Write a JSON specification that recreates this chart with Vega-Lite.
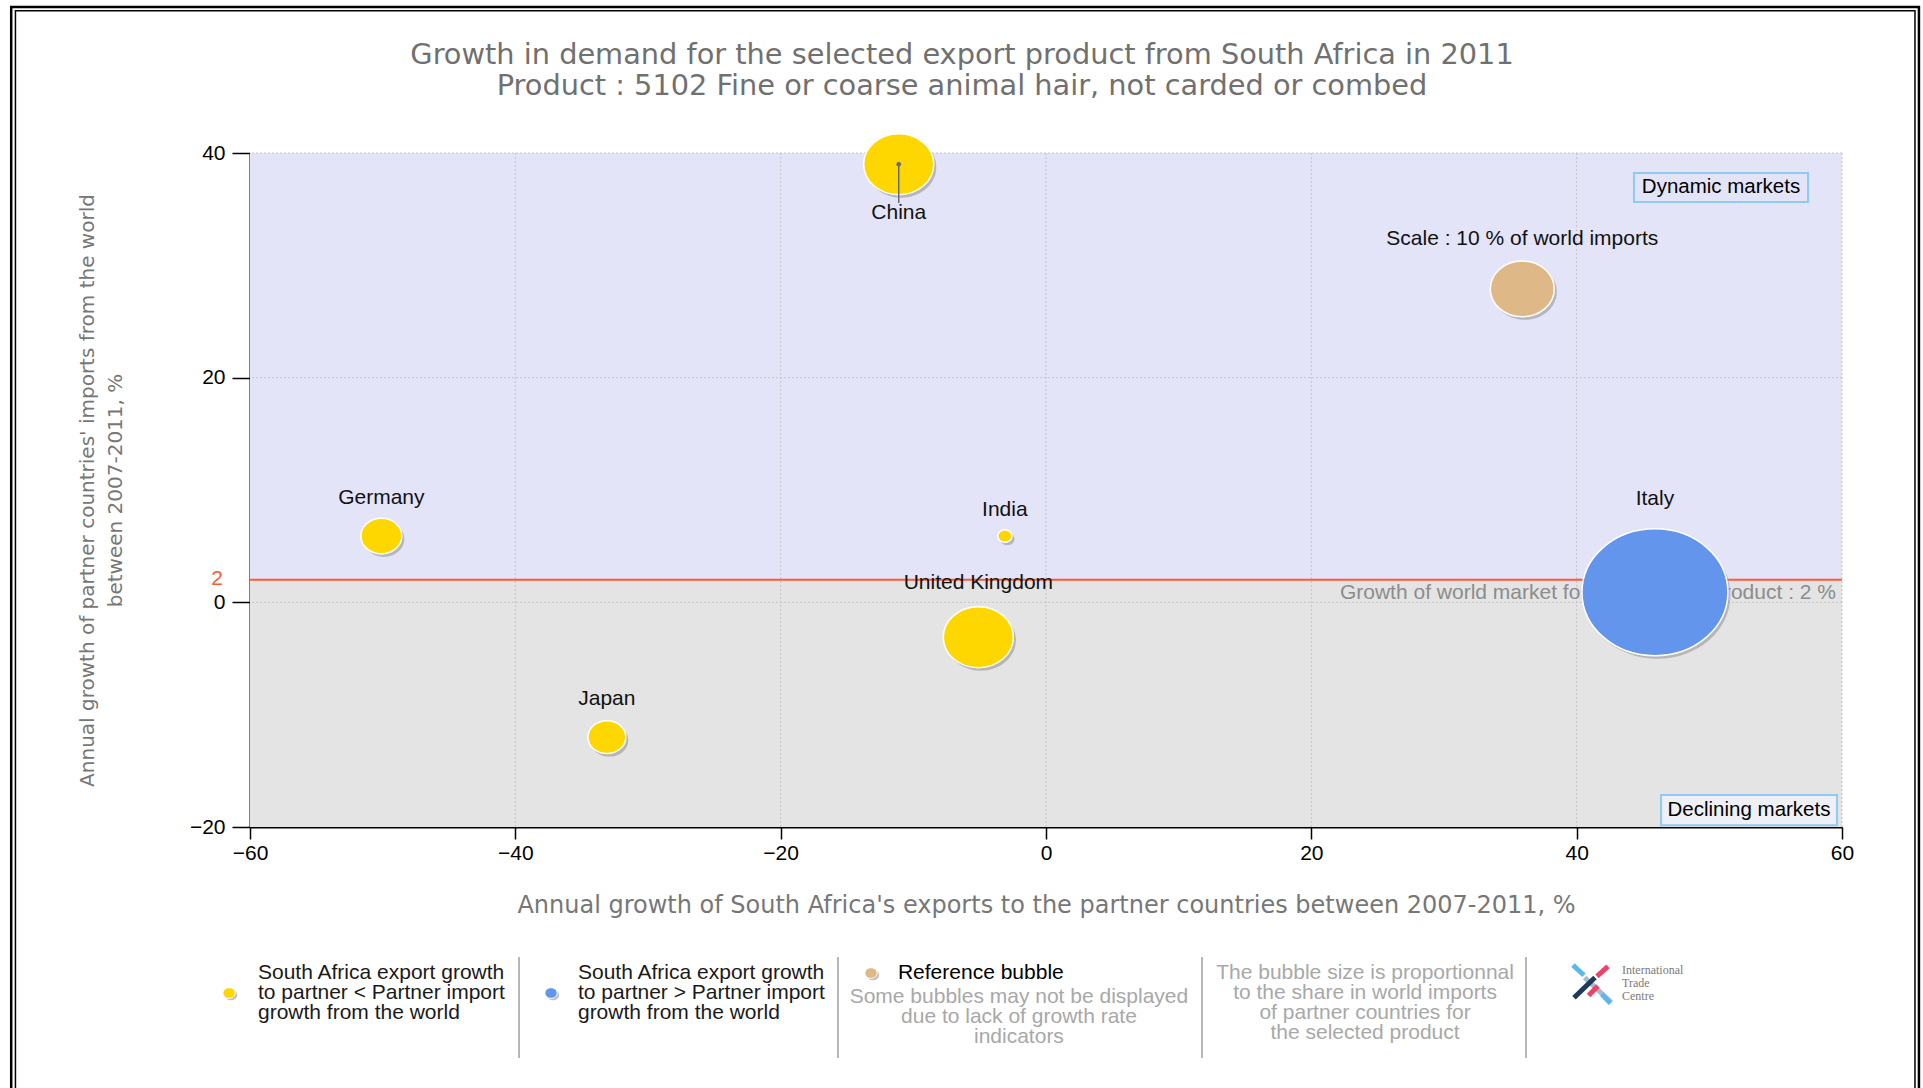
{
  "$schema": "https://vega.github.io/schema/vega-lite/v6.json",
  "width": 1592,
  "height": 674,
  "autosize": {"type": "none"},
  "padding": {"left": 250, "top": 153, "right": 81, "bottom": 261},
  "background": "white",
  "config": {
    "view": {"stroke": null},
    "axis": {
      "labelFont": "Liberation Sans",
      "labelFontSize": 21,
      "labelColor": "#000000",
      "domainColor": "#000000",
      "domainWidth": 2,
      "tickColor": "#000000",
      "tickWidth": 1.5,
      "titleFont": "DejaVu Sans",
      "titleFontWeight": "normal",
      "titleColor": "#777777",
      "grid": false
    }
  },
  "datasets": {
    "bubbles": [
      {"name": "China", "label": "China", "x": -11.1, "y": 39.0, "share": 12.0, "group": "lower"},
      {"name": "Germany", "label": "Germany", "x": -50.1, "y": 5.9, "share": 4.1, "group": "lower"},
      {"name": "India", "label": "India", "x": -3.1, "y": 5.9, "share": 0.5, "group": "lower"},
      {"name": "United Kingdom", "label": "United Kingdom", "x": -5.1, "y": -3.1, "share": 12.0, "group": "lower"},
      {"name": "Japan", "label": "Japan", "x": -33.1, "y": -12.0, "share": 3.5, "group": "lower"},
      {"name": "Italy", "label": "Italy", "x": 45.9, "y": 0.9, "share": 52.0, "group": "higher"},
      {"name": "Reference", "label": "Scale : 10 % of world imports", "x": 35.9, "y": 27.9, "share": 10, "group": "Reference"}
    ],
    "one": [{}]
  },
  "layer": [
    {
      "data": {"name": "one"},
      "layer": [
        {"mark": {"type": "rect", "fill": "transparent", "stroke": "#000000", "strokeWidth": 2.5},
         "encoding": {"x": {"datum": -78.0, "type": "quantitative"}, "x2": {"datum": 65.8}, "y": {"datum": 53.0, "type": "quantitative"}, "y2": {"datum": -44.5}}},
        {"mark": {"type": "rect", "fill": "transparent", "stroke": "#000000", "strokeWidth": 1.5},
         "encoding": {"x": {"datum": -77.68, "type": "quantitative"}, "x2": {"datum": 65.5}, "y": {"datum": 52.66, "type": "quantitative"}, "y2": {"datum": -44.5}}},
        {"mark": {"type": "rect", "fill": "#E4E4F8"},
         "encoding": {"x": {"datum": -60, "type": "quantitative"}, "x2": {"datum": 60}, "y": {"datum": 2, "type": "quantitative"}, "y2": {"datum": 40}}},
        {"mark": {"type": "rect", "fill": "#E4E4E4"},
         "encoding": {"x": {"datum": -60, "type": "quantitative"}, "x2": {"datum": 60}, "y": {"datum": -20, "type": "quantitative"}, "y2": {"datum": 2}}},
        {"mark": {"type": "rule", "color": "#C4C4C4", "strokeDash": [2, 2], "strokeWidth": 1}, "encoding": {"x": {"datum": -40, "type": "quantitative"}}},
        {"mark": {"type": "rule", "color": "#C4C4C4", "strokeDash": [2, 2], "strokeWidth": 1}, "encoding": {"x": {"datum": -20, "type": "quantitative"}}},
        {"mark": {"type": "rule", "color": "#C4C4C4", "strokeDash": [2, 2], "strokeWidth": 1}, "encoding": {"x": {"datum": 0, "type": "quantitative"}}},
        {"mark": {"type": "rule", "color": "#C4C4C4", "strokeDash": [2, 2], "strokeWidth": 1}, "encoding": {"x": {"datum": 20, "type": "quantitative"}}},
        {"mark": {"type": "rule", "color": "#C4C4C4", "strokeDash": [2, 2], "strokeWidth": 1}, "encoding": {"x": {"datum": 40, "type": "quantitative"}}},
        {"mark": {"type": "rule", "color": "#C4C4C4", "strokeDash": [2, 2], "strokeWidth": 1}, "encoding": {"x": {"datum": 60, "type": "quantitative"}}},
        {"mark": {"type": "rule", "color": "#C4C4C4", "strokeDash": [2, 2], "strokeWidth": 1}, "encoding": {"y": {"datum": 0, "type": "quantitative"}}},
        {"mark": {"type": "rule", "color": "#C4C4C4", "strokeDash": [2, 2], "strokeWidth": 1}, "encoding": {"y": {"datum": 20, "type": "quantitative"}}},
        {"mark": {"type": "rule", "color": "#C4C4C4", "strokeDash": [2, 2], "strokeWidth": 1}, "encoding": {"y": {"datum": 40, "type": "quantitative"}}},
        {"mark": {"type": "rule", "color": "#FF5A36", "strokeWidth": 2}, "encoding": {"y": {"datum": 2, "type": "quantitative"}}},
        {"mark": {"type": "text", "text": "Growth of world market for the selected product : 2 %", "align": "right", "baseline": "middle", "dx": -6, "dy": 13, "font": "Liberation Sans", "fontSize": 21, "color": "#8C8C8C"},
         "encoding": {"x": {"datum": 60, "type": "quantitative"}, "y": {"datum": 2, "type": "quantitative"}}},
        {"mark": {"type": "rect", "fill": "#E4E4F8", "stroke": "#8ECAF5", "strokeWidth": 2},
         "encoding": {"x": {"datum": 44.32, "type": "quantitative"}, "x2": {"datum": 57.44}, "y": {"datum": 35.64, "type": "quantitative"}, "y2": {"datum": 38.22}}},
        {"mark": {"type": "text", "text": "Dynamic markets", "align": "center", "baseline": "middle", "font": "Liberation Sans", "fontSize": 20.5, "color": "#000000"},
         "encoding": {"x": {"datum": 50.88, "type": "quantitative"}, "y": {"datum": 36.93, "type": "quantitative"}}},
        {"mark": {"type": "rect", "fill": "#EEF0F5", "stroke": "#8ECAF5", "strokeWidth": 2},
         "encoding": {"x": {"datum": 46.36, "type": "quantitative"}, "x2": {"datum": 59.62}, "y": {"datum": -19.85, "type": "quantitative"}, "y2": {"datum": -17.15}}},
        {"mark": {"type": "text", "text": "Declining markets", "align": "center", "baseline": "middle", "font": "Liberation Sans", "fontSize": 20.5, "color": "#000000"},
         "encoding": {"x": {"datum": 52.99, "type": "quantitative"}, "y": {"datum": -18.5, "type": "quantitative"}}},
        {"mark": {"type": "text", "text": "2", "align": "right", "baseline": "middle", "dx": -27, "dy": -1, "font": "Liberation Sans", "fontSize": 21, "color": "#FF5A36"},
         "encoding": {"x": {"datum": -60, "type": "quantitative"}, "y": {"datum": 2, "type": "quantitative"}}},
        {"mark": {"type": "text", "text": ["Growth in demand for the selected export product from South Africa in 2011", "Product : 5102 Fine or coarse animal hair, not carded or combed"], "align": "center", "baseline": "middle", "lineHeight": 31, "font": "DejaVu Sans", "fontSize": 28.8, "color": "#707070"},
         "encoding": {"x": {"datum": -6.33, "type": "quantitative"}, "y": {"datum": 48.72, "type": "quantitative"}}}
      ]
    },
    {
      "data": {"name": "one"},
      "layer": [
        {"mark": {"type": "point", "shape": "M-1,0A1,0.87,0,1,1,1,0A1,0.87,0,1,1,-1,0Z", "filled": true, "size": 150, "color": "#9A9A9A", "opacity": 0.6, "xOffset": 2, "yOffset": 2},
         "encoding": {"x": {"datum": -61.58, "type": "quantitative"}, "y": {"datum": -34.78, "type": "quantitative"}}},
        {"mark": {"type": "point", "shape": "M-1,0A1,0.87,0,1,1,1,0A1,0.87,0,1,1,-1,0Z", "filled": true, "size": 150, "color": "#FFD700", "opacity": 1, "stroke": "#FFFFFF", "strokeWidth": 1},
         "encoding": {"x": {"datum": -61.58, "type": "quantitative"}, "y": {"datum": -34.78, "type": "quantitative"}}},
        {"mark": {"type": "text", "text": ["South Africa export growth", "to partner < Partner import", "growth from the world"], "align": "left", "baseline": "middle", "lineHeight": 20, "font": "Liberation Sans", "fontSize": 21, "color": "#1A1A1A"},
         "encoding": {"x": {"datum": -59.4, "type": "quantitative"}, "y": {"datum": -33.0, "type": "quantitative"}}},
        {"mark": {"type": "rule", "color": "#A0A0A0", "strokeWidth": 1.5},
         "encoding": {"x": {"datum": -39.72, "type": "quantitative"}, "y": {"datum": -31.57, "type": "quantitative"}, "y2": {"datum": -40.56}}},
        {"mark": {"type": "point", "shape": "M-1,0A1,0.87,0,1,1,1,0A1,0.87,0,1,1,-1,0Z", "filled": true, "size": 150, "color": "#9A9A9A", "opacity": 0.6, "xOffset": 2, "yOffset": 2},
         "encoding": {"x": {"datum": -37.31, "type": "quantitative"}, "y": {"datum": -34.78, "type": "quantitative"}}},
        {"mark": {"type": "point", "shape": "M-1,0A1,0.87,0,1,1,1,0A1,0.87,0,1,1,-1,0Z", "filled": true, "size": 150, "color": "#6495ED", "opacity": 1, "stroke": "#FFFFFF", "strokeWidth": 1},
         "encoding": {"x": {"datum": -37.31, "type": "quantitative"}, "y": {"datum": -34.78, "type": "quantitative"}}},
        {"mark": {"type": "text", "text": ["South Africa export growth", "to partner > Partner import", "growth from the world"], "align": "left", "baseline": "middle", "lineHeight": 20, "font": "Liberation Sans", "fontSize": 21, "color": "#1A1A1A"},
         "encoding": {"x": {"datum": -35.28, "type": "quantitative"}, "y": {"datum": -33.0, "type": "quantitative"}}},
        {"mark": {"type": "rule", "color": "#A0A0A0", "strokeWidth": 1.5},
         "encoding": {"x": {"datum": -15.68, "type": "quantitative"}, "y": {"datum": -31.57, "type": "quantitative"}, "y2": {"datum": -40.56}}},
        {"mark": {"type": "point", "shape": "M-1,0A1,0.87,0,1,1,1,0A1,0.87,0,1,1,-1,0Z", "filled": true, "size": 150, "color": "#9A9A9A", "opacity": 0.6, "xOffset": 2, "yOffset": 2},
         "encoding": {"x": {"datum": -13.19, "type": "quantitative"}, "y": {"datum": -33.0, "type": "quantitative"}}},
        {"mark": {"type": "point", "shape": "M-1,0A1,0.87,0,1,1,1,0A1,0.87,0,1,1,-1,0Z", "filled": true, "size": 150, "color": "#DEB887", "opacity": 1, "stroke": "#FFFFFF", "strokeWidth": 1},
         "encoding": {"x": {"datum": -13.19, "type": "quantitative"}, "y": {"datum": -33.0, "type": "quantitative"}}},
        {"mark": {"type": "text", "text": "Reference bubble", "align": "left", "baseline": "middle", "font": "Liberation Sans", "fontSize": 21, "color": "#000000"},
         "encoding": {"x": {"datum": -11.16, "type": "quantitative"}, "y": {"datum": -33.0, "type": "quantitative"}}},
        {"mark": {"type": "text", "text": ["Some bubbles may not be displayed", "due to lack of growth rate", "indicators"], "align": "center", "baseline": "middle", "lineHeight": 20, "font": "Liberation Sans", "fontSize": 21, "color": "#A8A8A8"},
         "encoding": {"x": {"datum": -2.04, "type": "quantitative"}, "y": {"datum": -35.13, "type": "quantitative"}}},
        {"mark": {"type": "rule", "color": "#A0A0A0", "strokeWidth": 1.5},
         "encoding": {"x": {"datum": 11.76, "type": "quantitative"}, "y": {"datum": -31.57, "type": "quantitative"}, "y2": {"datum": -40.56}}},
        {"mark": {"type": "text", "text": ["The bubble size is proportionnal", "to the share in world imports", "of partner countries for", "the selected product"], "align": "center", "baseline": "middle", "lineHeight": 20, "font": "Liberation Sans", "fontSize": 21, "color": "#A8A8A8"},
         "encoding": {"x": {"datum": 24.05, "type": "quantitative"}, "y": {"datum": -33.0, "type": "quantitative"}}},
        {"mark": {"type": "rule", "color": "#A0A0A0", "strokeWidth": 1.5},
         "encoding": {"x": {"datum": 36.18, "type": "quantitative"}, "y": {"datum": -31.57, "type": "quantitative"}, "y2": {"datum": -40.56}}},
        {"mark": {"type": "rule", "color": "#5BB8E8", "strokeWidth": 5},
         "encoding": {"x": {"datum": 39.72, "type": "quantitative"}, "x2": {"datum": 40.55}, "y": {"datum": -32.3, "type": "quantitative"}, "y2": {"datum": -33.2}}},
        {"mark": {"type": "rule", "color": "#E8456B", "strokeWidth": 5},
         "encoding": {"x": {"datum": 42.36, "type": "quantitative"}, "x2": {"datum": 41.53}, "y": {"datum": -32.4, "type": "quantitative"}, "y2": {"datum": -33.3}}},
        {"mark": {"type": "rule", "color": "#A9B9CF", "strokeWidth": 5},
         "encoding": {"x": {"datum": 40.6, "type": "quantitative"}, "x2": {"datum": 42.6}, "y": {"datum": -33.4, "type": "quantitative"}, "y2": {"datum": -35.6}}},
        {"mark": {"type": "rule", "color": "#1F3A5C", "strokeWidth": 5},
         "encoding": {"x": {"datum": 41.38, "type": "quantitative"}, "x2": {"datum": 39.8}, "y": {"datum": -33.4, "type": "quantitative"}, "y2": {"datum": -35.2}}},
        {"mark": {"type": "rule", "color": "#E8456B", "strokeWidth": 5},
         "encoding": {"x": {"datum": 41.6, "type": "quantitative"}, "x2": {"datum": 40.9}, "y": {"datum": -34.15, "type": "quantitative"}, "y2": {"datum": -35.0}}},
        {"mark": {"type": "rule", "color": "#5BB8E8", "strokeWidth": 5},
         "encoding": {"x": {"datum": 41.9, "type": "quantitative"}, "x2": {"datum": 42.55}, "y": {"datum": -34.9, "type": "quantitative"}, "y2": {"datum": -35.7}}},
        {"mark": {"type": "text", "text": ["International", "Trade", "Centre"], "align": "left", "baseline": "middle", "lineHeight": 13, "font": "Liberation Serif", "fontSize": 12, "color": "#7A7A7A"},
         "encoding": {"x": {"datum": 43.42, "type": "quantitative"}, "y": {"datum": -32.73, "type": "quantitative"}}}
      ]
    },
    {
      "data": {"name": "bubbles"},
      "layer": [
        {"mark": {"type": "point", "shape": "M-1,0A1,0.87,0,1,1,1,0A1,0.87,0,1,1,-1,0Z", "filled": true, "color": "#8F8F8F", "opacity": 0.55, "xOffset": 2.5, "yOffset": 3},
         "encoding": {
           "x": {"field": "x", "type": "quantitative", "scale": {"domain": [-60, 60], "nice": false, "zero": false},
                 "axis": {"values": [-60, -40, -20, 0, 20, 40, 60], "tickSize": 12, "labelPadding": 3, "labelFlush": false, "labelOverlap": false,
                          "title": "Annual growth of South Africa's exports to the partner countries between 2007-2011, %", "titleFontSize": 24, "titlePadding": 30}},
           "y": {"field": "y", "type": "quantitative", "scale": {"domain": [-20, 40], "nice": false, "zero": false},
                 "axis": {"values": [-20, 0, 20, 40], "tickSize": 18, "labelPadding": 7, "labelOverlap": false,
                          "title": ["Annual growth of partner countries' imports from the world", "between 2007-2011, %"], "titleFontSize": 20, "titleLineHeight": 28, "titlePadding": 64}},
           "size": {"field": "share", "type": "quantitative", "scale": {"domain": [0, 10], "range": [0, 4096]}, "legend": null}
         }},
        {"mark": {"type": "point", "shape": "M-1,0A1,0.87,0,1,1,1,0A1,0.87,0,1,1,-1,0Z", "filled": true, "opacity": 1, "stroke": "#FFFFFF", "strokeWidth": 1.5},
         "encoding": {
           "x": {"field": "x", "type": "quantitative"},
           "y": {"field": "y", "type": "quantitative"},
           "size": {"field": "share", "type": "quantitative", "legend": null},
           "color": {"field": "group", "type": "nominal", "scale": {"domain": ["lower", "higher", "Reference"], "range": ["#FFD700", "#6495ED", "#DEB887"]}, "legend": null}
         }},
        {"transform": [{"filter": "datum.name === 'China'"}],
         "mark": {"type": "rule", "color": "#6A6A6A", "strokeWidth": 1.5},
         "encoding": {"x": {"field": "x", "type": "quantitative"}, "y": {"field": "y", "type": "quantitative"}, "y2": {"datum": 35.55}}},
        {"transform": [{"filter": "datum.name === 'China'"}],
         "mark": {"type": "point", "filled": true, "size": 22, "color": "#6A6A6A", "opacity": 1},
         "encoding": {"x": {"field": "x", "type": "quantitative"}, "y": {"field": "y", "type": "quantitative"}}},
        {"transform": [{"filter": "datum.name === 'China'"}],
         "mark": {"type": "text", "baseline": "middle", "align": "center", "dy": 49, "font": "Liberation Sans", "fontSize": 21, "color": "#111111"},
         "encoding": {"x": {"field": "x", "type": "quantitative"}, "y": {"field": "y", "type": "quantitative"}, "text": {"field": "label"}}},
        {"transform": [{"filter": "datum.name === 'Germany' || datum.name === 'Japan'"}],
         "mark": {"type": "text", "baseline": "middle", "align": "center", "dy": -38, "font": "Liberation Sans", "fontSize": 21, "color": "#111111"},
         "encoding": {"x": {"field": "x", "type": "quantitative"}, "y": {"field": "y", "type": "quantitative"}, "text": {"field": "label"}}},
        {"transform": [{"filter": "datum.name === 'India'"}],
         "mark": {"type": "text", "baseline": "middle", "align": "center", "dy": -26, "font": "Liberation Sans", "fontSize": 21, "color": "#111111"},
         "encoding": {"x": {"field": "x", "type": "quantitative"}, "y": {"field": "y", "type": "quantitative"}, "text": {"field": "label"}}},
        {"transform": [{"filter": "datum.name === 'United Kingdom'"}],
         "mark": {"type": "text", "baseline": "middle", "align": "center", "dy": -54, "font": "Liberation Sans", "fontSize": 21, "color": "#111111"},
         "encoding": {"x": {"field": "x", "type": "quantitative"}, "y": {"field": "y", "type": "quantitative"}, "text": {"field": "label"}}},
        {"transform": [{"filter": "datum.name === 'Italy'"}],
         "mark": {"type": "text", "baseline": "middle", "align": "center", "dy": -93, "font": "Liberation Sans", "fontSize": 21, "color": "#111111"},
         "encoding": {"x": {"field": "x", "type": "quantitative"}, "y": {"field": "y", "type": "quantitative"}, "text": {"field": "label"}}},
        {"transform": [{"filter": "datum.name === 'Reference'"}],
         "mark": {"type": "text", "baseline": "middle", "align": "center", "dy": -50, "font": "Liberation Sans", "fontSize": 21, "color": "#111111"},
         "encoding": {"x": {"field": "x", "type": "quantitative"}, "y": {"field": "y", "type": "quantitative"}, "text": {"field": "label"}}}
      ]
    }
  ]
}
